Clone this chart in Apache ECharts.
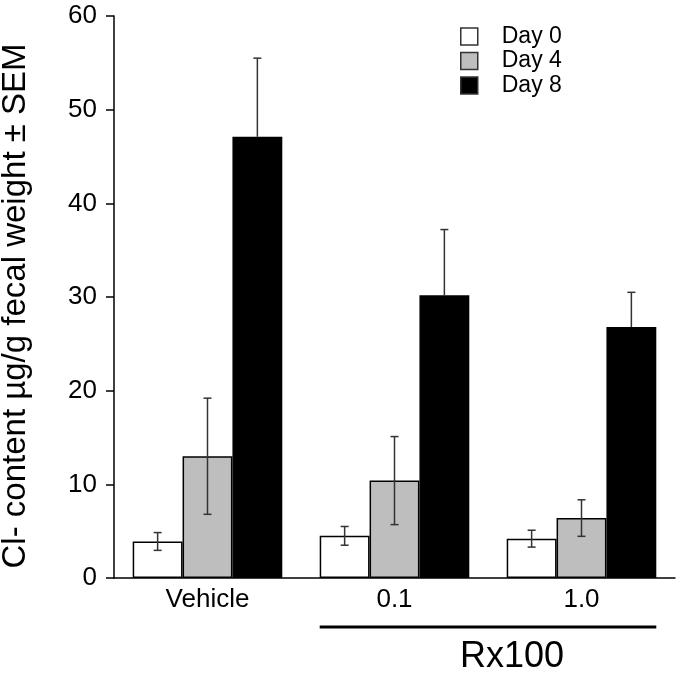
<!DOCTYPE html>
<html><head><meta charset="utf-8">
<script src="https://cdn.jsdelivr.net/npm/echarts@6/dist/echarts.min.js"></script>
<style>html,body{margin:0;padding:0;background:#fff}#c{width:680px;height:675px}</style>
</head><body><div id="c"></div>
<script>
const categories = ['Vehicle', '0.1', '1.0'];
const seriesNames = ['Day 0', 'Day 4', 'Day 8'];
const day0 = [3.9, 4.5, 4.2];
const day4 = [13.0, 10.4, 6.4];
const day8 = [47.1, 30.2, 26.8];
const day0Sem = [0.95, 1.0, 0.9];
const day4Sem = [6.2, 4.7, 1.95];
const day8Sem = [8.4, 7.0, 3.7];
const yTicks = [0, 10, 20, 30, 40, 50, 60];
const groupLabel = 'Rx100';

const values = [day0, day4, day8];
const sems = [day0Sem, day4Sem, day8Sem];
const fills = ['#ffffff', '#bebebe', '#000000'];
const FONT = 'Liberation Sans, Arial, Helvetica, sans-serif';

const chart = echarts.init(document.getElementById('c'));

function errSeries(k) {
  return {
    type: 'custom',
    name: seriesNames[k] + ' SEM',
    z: 5,
    silent: true,
    data: categories.map((c, i) => [i, values[k][i], sems[k][i]]),
    renderItem: function (params, api) {
      const i = api.value(0), v = api.value(1), e = api.value(2);
      const catW = api.size([1, 0])[0];
      const bw = catW * 0.8 / 3;
      const cx = api.coord([i, v])[0] + (k - 1) * bw;
      const top = api.coord([i, v + e])[1];
      const bot = api.coord([i, k === 2 ? v : v - e])[1];
      const cap = 4;
      const st = { stroke: '#333', lineWidth: 1.5 };
      const kids = [
        { type: 'line', shape: { x1: cx, y1: top, x2: cx, y2: bot }, style: st },
        { type: 'line', shape: { x1: cx - cap, y1: top, x2: cx + cap, y2: top }, style: st }
      ];
      if (k !== 2) kids.push({ type: 'line', shape: { x1: cx - cap, y1: bot, x2: cx + cap, y2: bot }, style: st });
      return { type: 'group', children: kids };
    }
  };
}

const series = [];
for (let k = 0; k < 3; k++) {
  series.push({
    type: 'bar', name: seriesNames[k], data: values[k],
    barGap: '0%', barCategoryGap: '20%',
    itemStyle: { color: fills[k], borderColor: '#000', borderWidth: 1.5 },
    z: 2
  });
}
for (let k = 0; k < 3; k++) series.push(errSeries(k));

chart.setOption({
  animation: false,
  backgroundColor: '#fff',
  grid: { left: 114, right: 5, top: 16, bottom: 97, containLabel: false, outerBoundsMode: 'none' },
  legend: {
    data: seriesNames, orient: 'vertical', left: 455, top: 20,
    itemWidth: 17, itemHeight: 17, itemGap: 1.5,
    icon: 'rect',
    textStyle: { fontSize: 23, fontFamily: FONT, color: '#000', padding: [0, 0, 0, 19] },
    itemStyle: { borderColor: '#333', borderWidth: 1.5 }
  },
  xAxis: {
    type: 'category', data: categories,
    axisLine: { lineStyle: { color: '#000', width: 1.5 } },
    axisTick: { show: false },
    axisLabel: { fontSize: 26, fontFamily: FONT, color: '#000', margin: 9 }
  },
  yAxis: {
    type: 'value', min: 0, max: 60, interval: 10,
    name: 'Cl- content µg/g fecal weight ± SEM',
    nameLocation: 'middle', nameGap: 82,
    nameTextStyle: { fontSize: 33, fontFamily: FONT, color: '#000', padding: [0, 18, 0, 0] },
    splitLine: { show: false },
    axisLine: { show: true, lineStyle: { color: '#000', width: 1.5 } },
    axisTick: { show: true, length: 8, lineStyle: { color: '#000', width: 1.5 } },
    axisLabel: { fontSize: 26, fontFamily: FONT, color: '#000', margin: 17,
      formatter: v => yTicks.includes(v) ? String(v) : '' }
  },
  series: series
});

// annotation line under the Rx100 groups, positioned from the axis scale
const p1 = chart.convertToPixel({ xAxisIndex: 0 }, categories[1]);
const p2 = chart.convertToPixel({ xAxisIndex: 0 }, categories[2]);
const half = (p2 - p1) / 2 * 0.8;
const y0 = chart.convertToPixel({ yAxisIndex: 0 }, 0);
chart.setOption({
  graphic: [
    { type: 'line', shape: { x1: p1 - half, y1: y0 + 49, x2: p2 + half, y2: y0 + 49 },
      style: { stroke: '#000', lineWidth: 3 } },
    { type: 'text', x: (p1 + p2) / 2 + 24, y: y0 + 79,
      style: { text: groupLabel, font: '36px ' + FONT, fill: '#000', textAlign: 'center', textVerticalAlign: 'middle' } }
  ]
});
</script></body></html>
